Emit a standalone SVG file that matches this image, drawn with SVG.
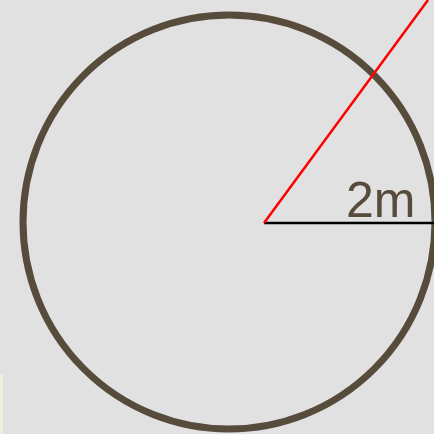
<svg xmlns="http://www.w3.org/2000/svg" width="434" height="434" viewBox="0 0 434 434">
<style>
.lbl{font-family:"Liberation Sans",Arial,sans-serif;font-size:50px;fill:#574b3c}
</style>
<rect width="434" height="434" fill="#e1e1e1"/>
<rect x="0" y="374" width="3" height="60" fill="#f1f0d9"/>
<g id="circle">
<ellipse cx="229" cy="222" rx="206" ry="207" fill="none" stroke="#574b3c" stroke-width="7"/>
</g>
<g id="connectors">
<line x1="264" y1="223" x2="434" y2="223" stroke="#000" stroke-width="2.5"/>
<line x1="264" y1="223" x2="428" y2="0" stroke="#ff0000" stroke-width="2.5"/>
</g>
<g id="label">
<text class="lbl" x="346" y="217">2m</text>
</g>
</svg>
